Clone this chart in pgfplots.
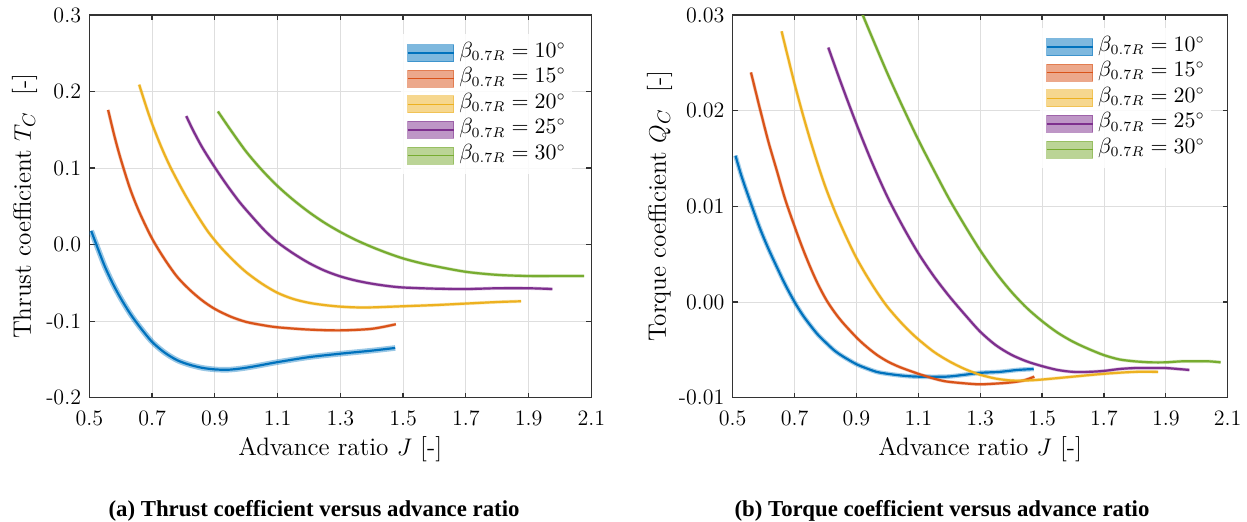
\documentclass[border=0pt]{standalone}
\usepackage{pgfplots}
\pgfplotsset{compat=1.18}
\usepackage{pgfplotstable}
\usepackage{fontspec}
\newfontfamily\capfont{Liberation Serif}
\definecolor{cA}{rgb}{0,0.447,0.741}
\definecolor{cB}{rgb}{0.85,0.325,0.098}
\definecolor{cC}{rgb}{0.929,0.694,0.125}
\definecolor{cD}{rgb}{0.494,0.184,0.556}
\definecolor{cE}{rgb}{0.466,0.674,0.188}

% ---- Thrust coefficient data ----
\pgfplotstableread{
J T
0.506 0.018
0.53 -0.008
0.55 -0.029
0.575 -0.051
0.60 -0.070
0.63 -0.090
0.66 -0.107
0.70 -0.127
0.74 -0.141
0.78 -0.151
0.82 -0.157
0.86 -0.161
0.90 -0.163
0.94 -0.1635
0.98 -0.162
1.02 -0.1595
1.06 -0.1565
1.10 -0.1535
1.20 -0.147
1.30 -0.1425
1.40 -0.1385
1.475 -0.135
}\TA
\pgfplotstableread{
J T
0.560 0.176
0.58 0.142
0.60 0.112
0.63 0.073
0.66 0.042
0.70 0.008
0.74 -0.019
0.78 -0.042
0.82 -0.059
0.86 -0.073
0.90 -0.084
0.95 -0.094
1.00 -0.101
1.05 -0.105
1.10 -0.108
1.20 -0.111
1.30 -0.112
1.40 -0.110
1.477 -0.104
}\TB
\pgfplotstableread{
J T
0.659 0.209
0.68 0.182
0.70 0.158
0.73 0.127
0.76 0.100
0.80 0.069
0.84 0.041
0.88 0.016
0.92 -0.004
0.96 -0.021
1.00 -0.036
1.05 -0.051
1.10 -0.063
1.15 -0.071
1.20 -0.076
1.25 -0.079
1.30 -0.081
1.35 -0.082
1.40 -0.082
1.50 -0.0805
1.60 -0.079
1.70 -0.077
1.80 -0.075
1.876 -0.074
}\TC
\pgfplotstableread{
J T
0.809 0.168
0.83 0.150
0.86 0.127
0.90 0.101
0.94 0.077
0.98 0.055
1.02 0.036
1.06 0.018
1.10 0.003
1.15 -0.0115
1.20 -0.024
1.25 -0.034
1.30 -0.0415
1.35 -0.047
1.40 -0.051
1.45 -0.054
1.50 -0.056
1.60 -0.0575
1.70 -0.058
1.80 -0.057
1.90 -0.057
1.976 -0.058
}\TD
\pgfplotstableread{
J T
0.91 0.174
0.95 0.150
1.00 0.1215
1.05 0.0975
1.10 0.0765
1.15 0.0585
1.20 0.0425
1.25 0.0285
1.30 0.0165
1.35 0.006
1.40 -0.003
1.45 -0.011
1.50 -0.018
1.55 -0.0235
1.60 -0.028
1.70 -0.0355
1.80 -0.0395
1.90 -0.041
2.00 -0.041
2.077 -0.041
}\TE

% ---- Torque coefficient data ----
\pgfplotstableread{
J Q
0.509 0.0153
0.53 0.0130
0.56 0.0102
0.588 0.0077
0.615 0.0056
0.642 0.0037
0.67 0.0018
0.70 0.0000
0.725 -0.0013
0.75 -0.0024
0.775 -0.0034
0.803 -0.0043
0.83 -0.0051
0.857 -0.0057
0.90 -0.0065
0.93 -0.0069
0.965 -0.0073
1.00 -0.0075
1.05 -0.0077
1.10 -0.0078
1.19 -0.0078
1.25 -0.0076
1.30 -0.0074
1.363 -0.0073
1.42 -0.0071
1.473 -0.0070
}\QA
\pgfplotstableread{
J Q
0.559 0.0240
0.575 0.0219
0.588 0.0202
0.615 0.0168
0.642 0.0138
0.67 0.0107
0.70 0.0079
0.725 0.0057
0.75 0.0037
0.775 0.0019
0.803 0.0002
0.83 -0.0011
0.857 -0.0022
0.90 -0.0037
0.93 -0.0046
0.965 -0.0055
1.00 -0.0062
1.04 -0.0068
1.10 -0.0075
1.15 -0.0080
1.19 -0.0083
1.25 -0.0085
1.30 -0.0086
1.363 -0.0085
1.40 -0.0084
1.44 -0.0082
1.475 -0.0078
}\QB
\pgfplotstableread{
J Q
0.658 0.0283
0.68 0.0254
0.70 0.0228
0.725 0.0198
0.75 0.0170
0.775 0.0144
0.80 0.0120
0.83 0.0095
0.857 0.0075
0.88 0.0059
0.90 0.0046
0.93 0.0029
0.965 0.0011
1.00 -0.0005
1.04 -0.0020
1.07 -0.0030
1.10 -0.0039
1.15 -0.0052
1.20 -0.0062
1.25 -0.0070
1.30 -0.0076
1.35 -0.0080
1.40 -0.0082
1.45 -0.0082
1.50 -0.0081
1.60 -0.0078
1.70 -0.0075
1.80 -0.0073
1.875 -0.0073
}\QC
\pgfplotstableread{
J Q
0.809 0.0266
0.85 0.0229
0.90 0.0186
0.95 0.0146
1.00 0.0110
1.05 0.0079
1.10 0.0051
1.15 0.0027
1.20 0.0006
1.25 -0.0013
1.30 -0.0031
1.35 -0.0045
1.40 -0.0055
1.45 -0.0062
1.50 -0.0067
1.55 -0.0071
1.60 -0.0073
1.65 -0.0073
1.70 -0.0072
1.75 -0.0070
1.80 -0.0069
1.85 -0.0069
1.90 -0.0069
1.94 -0.0070
1.976 -0.0071
}\QD
\pgfplotstableread{
J Q
0.91 0.0308
0.95 0.0277
1.00 0.0239
1.05 0.02035
1.10 0.01695
1.15 0.0138
1.20 0.01075
1.25 0.0080
1.30 0.0054
1.35 0.0031
1.40 0.0011
1.45 -0.0006
1.50 -0.0020
1.55 -0.0032
1.60 -0.00415
1.65 -0.0049
1.70 -0.00555
1.75 -0.0060
1.80 -0.0062
1.85 -0.0063
1.90 -0.0063
1.95 -0.0062
2.00 -0.0062
2.04 -0.0062
2.077 -0.0063
}\QE

\pgfplotsset{
  bandleg/.style={legend image code/.code={
      \fill[#1,opacity=0.5] (0pt,-4.25pt) rectangle (23pt,4.25pt);
      \draw[#1,line width=0.7pt] (0pt,0pt) -- (23pt,0pt);
  }},
  curve/.style={#1, line width=1.1pt, smooth, forget plot},
  band/.style={#1, line width=1.7pt, opacity=0.3, smooth, forget plot},
  myaxis/.style={
    scale only axis,
    height=191.35pt,
    xmin=0.5, xmax=2.1,
    xtick={0.5,0.7,0.9,1.1,1.3,1.5,1.7,1.9,2.1},
    xticklabels={0.5,0.7,0.9,1.1,1.3,1.5,1.7,1.9,2.1},
    scaled x ticks=false, scaled y ticks=false,
    grid=major,
    major grid style={line width=0.4pt, draw=black!13},
    axis line style={draw=black!80, line width=0.6pt},
    tick style={draw=black!80, line width=0.6pt},
    tick align=inside, major tick length=2.6pt,
    xtick pos=both, ytick pos=both,
    xticklabel pos=lower, yticklabel pos=left,
    ticklabel style={font=\fontsize{11}{13}\selectfont},
    xticklabel style={yshift=-3pt},
    yticklabel style={xshift=-0.6pt},
    label style={font=\fontsize{12.6}{14}\selectfont},
    xlabel={Advance ratio $J$ [-]},
    xlabel style={at={(axis description cs:0.5,-0.134)}, anchor=center},
    legend cell align=left,
    legend style={draw=none, fill=white, fill opacity=0.85, text opacity=1,
      inner sep=3pt, column sep=2.5pt, row sep=0pt,
      font=\fontsize{10.5}{13}\selectfont,
      nodes={inner sep=0pt, text height=8.4pt, text depth=4.4pt}},
  }
}

\begin{document}
\begin{tikzpicture}
\useasboundingbox (0,0) rectangle (623.5pt,260.5pt);

% ===== (a) Thrust =====
\begin{axis}[myaxis,
  at={(44.65pt,61.65pt)}, anchor=south west,
  width=251pt,
  ymin=-0.2, ymax=0.3,
  ytick={-0.2,-0.1,0,0.1,0.2,0.3},
  yticklabels={-0.2,-0.1,0.0,0.1,0.2,0.3},
  ylabel={Thrust coefficient $T_C$\ \ [-]},
  ylabel style={at={(axis description cs:-0.1287,0.5)}, anchor=center},
  legend style={at={(0.962,0.9506)}, anchor=north east},
]
\addlegendimage{bandleg=cA}\addlegendentry{$\beta_{0.7R}=10^{\circ}$}
\addlegendimage{bandleg=cB}\addlegendentry{$\beta_{0.7R}=15^{\circ}$}
\addlegendimage{bandleg=cC}\addlegendentry{$\beta_{0.7R}=20^{\circ}$}
\addlegendimage{bandleg=cD}\addlegendentry{$\beta_{0.7R}=25^{\circ}$}
\addlegendimage{bandleg=cE}\addlegendentry{$\beta_{0.7R}=30^{\circ}$}
\addplot[cA, line width=2.8pt, opacity=0.4, smooth, forget plot] table[x=J,y=T] {\TA};
\addplot[band=cB] table[x=J,y=T] {\TB};
\addplot[band=cC] table[x=J,y=T] {\TC};
\addplot[band=cD] table[x=J,y=T] {\TD};
\addplot[band=cE] table[x=J,y=T] {\TE};
\addplot[curve=cA] table[x=J,y=T] {\TA};
\addplot[curve=cB] table[x=J,y=T] {\TB};
\addplot[curve=cC] table[x=J,y=T] {\TC};
\addplot[curve=cD] table[x=J,y=T] {\TD};
\addplot[curve=cE] table[x=J,y=T] {\TE};
\end{axis}

% ===== (b) Torque =====
\begin{axis}[myaxis,
  at={(366.35pt,61.65pt)}, anchor=south west,
  width=247.5pt,
  ymin=-0.01, ymax=0.03,
  ytick={-0.01,0,0.01,0.02,0.03},
  yticklabels={-0.01,0.00,0.01,0.02,0.03},
  ylabel={Torque coefficient $Q_C$\ \ [-]},
  ylabel style={at={(axis description cs:-0.1475,0.5)}, anchor=center},
  legend style={at={(0.9665,0.9663)}, anchor=north east},
]
\addlegendimage{bandleg=cA}\addlegendentry{$\beta_{0.7R}=10^{\circ}$}
\addlegendimage{bandleg=cB}\addlegendentry{$\beta_{0.7R}=15^{\circ}$}
\addlegendimage{bandleg=cC}\addlegendentry{$\beta_{0.7R}=20^{\circ}$}
\addlegendimage{bandleg=cD}\addlegendentry{$\beta_{0.7R}=25^{\circ}$}
\addlegendimage{bandleg=cE}\addlegendentry{$\beta_{0.7R}=30^{\circ}$}
\addplot[cA, line width=2.3pt, opacity=0.35, smooth, forget plot] table[x=J,y=Q] {\QA};
\addplot[band=cB] table[x=J,y=Q] {\QB};
\addplot[band=cC] table[x=J,y=Q] {\QC};
\addplot[band=cD] table[x=J,y=Q] {\QD};
\addplot[band=cE] table[x=J,y=Q] {\QE};
\addplot[curve=cA] table[x=J,y=Q] {\QA};
\addplot[curve=cB] table[x=J,y=Q] {\QB};
\addplot[curve=cC] table[x=J,y=Q] {\QC};
\addplot[curve=cD] table[x=J,y=Q] {\QD};
\addplot[curve=cE] table[x=J,y=Q] {\QE};
\end{axis}

\node[anchor=base] at (157pt,2.25pt) {\capfont\bfseries\fontsize{11.4}{13}\selectfont (a) Thrust coefficient versus advance ratio};
\node[anchor=base] at (471pt,2.25pt) {\capfont\bfseries\fontsize{11.4}{13}\selectfont (b) Torque coefficient versus advance ratio};
\end{tikzpicture}
\end{document}
